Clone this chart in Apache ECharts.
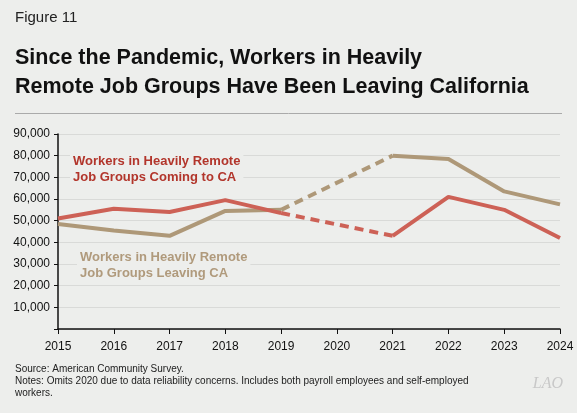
<!DOCTYPE html><html><head><meta charset="utf-8"><script src="https://cdn.jsdelivr.net/npm/echarts@6/dist/echarts.min.js"></script>
<style>body{margin:0;background:#edeeec}#c{width:577px;height:413px}</style></head><body><div id="c"></div><script>
const years=['2015','2016','2017','2018','2019','2020','2021','2022','2023','2024'];
const coming=[51000,55500,54000,59500,53500,null,43000,61000,55000,42000];
const leaving=[48500,45500,43000,54500,55000,null,80000,78500,63500,57500];
const comingGap=[null,null,null,null,53500,null,43000,null,null,null];
const leavingGap=[null,null,null,null,55000,null,80000,null,null,null];
const red='#cd6156',tan='#ae9878',F='Liberation Sans',bg='#edeeec';
const c=echarts.init(document.getElementById('c'));
c.setOption({backgroundColor:bg,textStyle:{fontFamily:F},
graphic:[
{type:'text',left:15,top:10,style:{text:'Figure 11',font:'15px '+F,fill:'#222'}},
{type:'text',left:15,top:44,style:{text:'Since the Pandemic, Workers in Heavily\nRemote Job Groups Have Been Leaving California',font:'bold 21.5px '+F,fill:'#111',lineHeight:29}},
{type:'line',shape:{x1:15,y1:113.5,x2:562,y2:113.5},style:{stroke:'#aaa',lineWidth:1}},
{type:'text',left:70,top:152,z:10,style:{text:'Workers in Heavily Remote\nJob Groups Coming to CA',font:'bold 13px '+F,fill:'#b2352b',lineHeight:16,backgroundColor:bg,padding:[1,3]}},
{type:'text',left:77,top:248,z:10,style:{text:'Workers in Heavily Remote\nJob Groups Leaving CA',font:'bold 13px '+F,fill:'#b09a7c',lineHeight:16,backgroundColor:bg,padding:[1,3]}},
{type:'text',left:15,top:363,style:{text:'Source: American Community Survey.\nNotes: Omits 2020 due to data reliability concerns. Includes both payroll employees and self-employed\nworkers.',font:'10px '+F,fill:'#222',lineHeight:12}},
{type:'text',right:14,top:376,style:{text:'LAO',font:'italic 16px Liberation Serif',fill:'#c8c8c8'}}
],
grid:{left:58,top:134,right:17,bottom:84},
xAxis:{type:'category',data:years,boundaryGap:false,axisLine:{lineStyle:{color:'#111',width:1.5}},axisTick:{show:true,length:5,lineStyle:{color:'#111'}},axisLabel:{color:'#111',fontSize:12,margin:12}},
yAxis:{type:'value',min:0,max:90000,interval:10000,axisLine:{show:true,lineStyle:{color:'#111',width:1.5}},axisTick:{show:true,length:4,lineStyle:{color:'#111'}},
axisLabel:{color:'#111',fontSize:12,formatter:v=>v===0?'':v.toLocaleString('en-US')},splitLine:{lineStyle:{color:'#d9dad8'}}},
series:[
{type:'line',data:leavingGap,connectNulls:true,symbol:'none',lineStyle:{color:tan,width:4,type:[9,6]},z:2},
{type:'line',data:comingGap,connectNulls:true,symbol:'none',lineStyle:{color:red,width:4,type:[9,6]},z:2},
{type:'line',data:leaving,symbol:'none',lineStyle:{color:tan,width:4},z:3},
{type:'line',data:coming,symbol:'none',lineStyle:{color:red,width:4},z:4}
]});
</script></body></html>
